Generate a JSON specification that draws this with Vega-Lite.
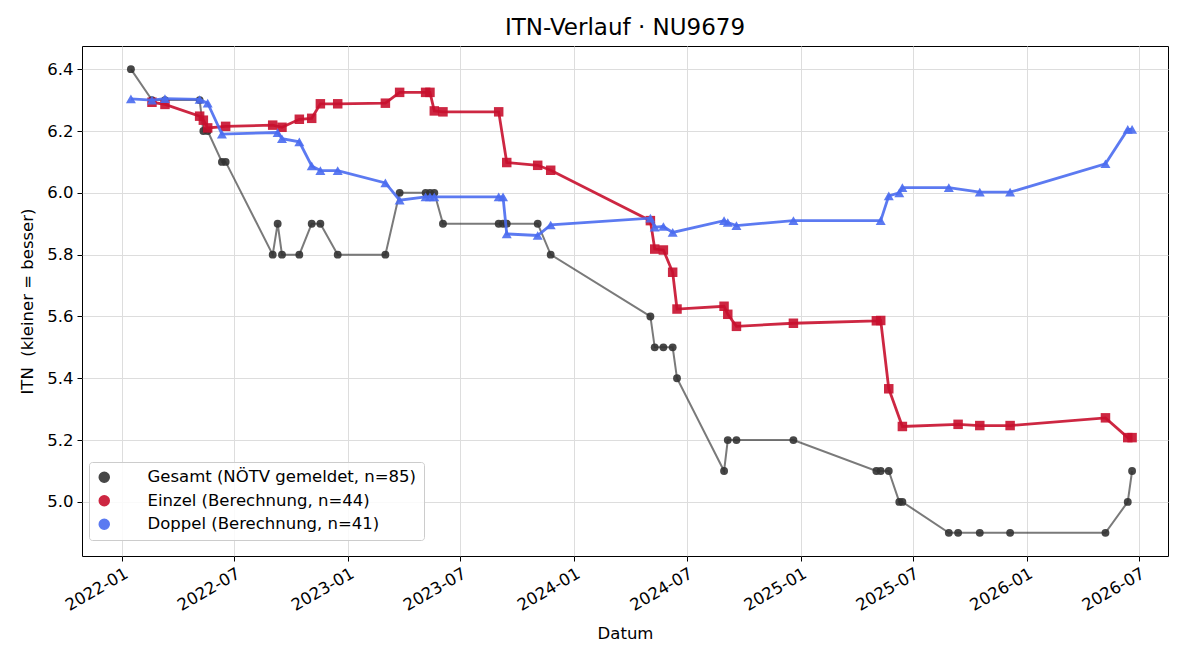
{
  "$schema": "https://vega.github.io/schema/vega-lite/v6.json",
  "autosize": {"type": "none"},
  "width": 1086,
  "height": 510,
  "padding": {"left": 82, "top": 46, "right": 32, "bottom": 104},
  "background": "white",
  "title": {
    "text": "ITN-Verlauf · NU9679",
    "fontSize": 23,
    "fontWeight": "normal",
    "color": "black",
    "anchor": "middle",
    "offset": 6,
    "font": "DejaVu Sans"
  },
  "config": {
    "font": "DejaVu Sans",
    "view": {"stroke": "black", "strokeWidth": 1},
    "axis": {
      "domain": false,
      "grid": true,
      "gridColor": "#dddddd",
      "gridWidth": 1,
      "tickColor": "black",
      "tickSize": 5,
      "tickWidth": 1,
      "labelColor": "black",
      "labelFontSize": 16.5,
      "labelFont": "DejaVu Sans",
      "labelPadding": 4,
      "titleColor": "black",
      "titleFontSize": 16.5,
      "titleFontWeight": "normal",
      "titleFont": "DejaVu Sans"
    }
  },
  "datasets": {
    "itn": [
      {"tag": "2022-01-15", "serie": "Gesamt", "itn": 6.4},
      {"tag": "2022-02-18", "serie": "Gesamt", "itn": 6.3},
      {"tag": "2022-03-11", "serie": "Gesamt", "itn": 6.3},
      {"tag": "2022-05-06", "serie": "Gesamt", "itn": 6.3},
      {"tag": "2022-05-12", "serie": "Gesamt", "itn": 6.2},
      {"tag": "2022-05-19", "serie": "Gesamt", "itn": 6.2},
      {"tag": "2022-06-11", "serie": "Gesamt", "itn": 6.1},
      {"tag": "2022-06-17", "serie": "Gesamt", "itn": 6.1},
      {"tag": "2022-09-01", "serie": "Gesamt", "itn": 5.8},
      {"tag": "2022-09-09", "serie": "Gesamt", "itn": 5.9},
      {"tag": "2022-09-16", "serie": "Gesamt", "itn": 5.8},
      {"tag": "2022-10-14", "serie": "Gesamt", "itn": 5.8},
      {"tag": "2022-11-03", "serie": "Gesamt", "itn": 5.9},
      {"tag": "2022-11-17", "serie": "Gesamt", "itn": 5.9},
      {"tag": "2022-12-15", "serie": "Gesamt", "itn": 5.8},
      {"tag": "2023-03-02", "serie": "Gesamt", "itn": 5.8},
      {"tag": "2023-03-25", "serie": "Gesamt", "itn": 6.0},
      {"tag": "2023-05-06", "serie": "Gesamt", "itn": 6.0},
      {"tag": "2023-05-13", "serie": "Gesamt", "itn": 6.0},
      {"tag": "2023-05-20", "serie": "Gesamt", "itn": 6.0},
      {"tag": "2023-06-03", "serie": "Gesamt", "itn": 5.9},
      {"tag": "2023-09-01", "serie": "Gesamt", "itn": 5.9},
      {"tag": "2023-09-08", "serie": "Gesamt", "itn": 5.9},
      {"tag": "2023-09-14", "serie": "Gesamt", "itn": 5.9},
      {"tag": "2023-11-03", "serie": "Gesamt", "itn": 5.9},
      {"tag": "2023-11-24", "serie": "Gesamt", "itn": 5.8},
      {"tag": "2024-05-03", "serie": "Gesamt", "itn": 5.6},
      {"tag": "2024-05-10", "serie": "Gesamt", "itn": 5.5},
      {"tag": "2024-05-24", "serie": "Gesamt", "itn": 5.5},
      {"tag": "2024-06-08", "serie": "Gesamt", "itn": 5.5},
      {"tag": "2024-06-15", "serie": "Gesamt", "itn": 5.4},
      {"tag": "2024-08-30", "serie": "Gesamt", "itn": 5.1},
      {"tag": "2024-09-05", "serie": "Gesamt", "itn": 5.2},
      {"tag": "2024-09-19", "serie": "Gesamt", "itn": 5.2},
      {"tag": "2024-12-20", "serie": "Gesamt", "itn": 5.2},
      {"tag": "2025-05-03", "serie": "Gesamt", "itn": 5.1},
      {"tag": "2025-05-10", "serie": "Gesamt", "itn": 5.1},
      {"tag": "2025-05-23", "serie": "Gesamt", "itn": 5.1},
      {"tag": "2025-06-09", "serie": "Gesamt", "itn": 5.0},
      {"tag": "2025-06-14", "serie": "Gesamt", "itn": 5.0},
      {"tag": "2025-08-28", "serie": "Gesamt", "itn": 4.9},
      {"tag": "2025-09-12", "serie": "Gesamt", "itn": 4.9},
      {"tag": "2025-10-17", "serie": "Gesamt", "itn": 4.9},
      {"tag": "2025-12-05", "serie": "Gesamt", "itn": 4.9},
      {"tag": "2026-05-08", "serie": "Gesamt", "itn": 4.9},
      {"tag": "2026-06-13", "serie": "Gesamt", "itn": 5.0},
      {"tag": "2026-06-20", "serie": "Gesamt", "itn": 5.1},

      {"tag": "2022-02-18", "serie": "Einzel", "itn": 6.293},
      {"tag": "2022-03-11", "serie": "Einzel", "itn": 6.286},
      {"tag": "2022-05-06", "serie": "Einzel", "itn": 6.248},
      {"tag": "2022-05-12", "serie": "Einzel", "itn": 6.235},
      {"tag": "2022-05-19", "serie": "Einzel", "itn": 6.21},
      {"tag": "2022-06-17", "serie": "Einzel", "itn": 6.215},
      {"tag": "2022-09-01", "serie": "Einzel", "itn": 6.219},
      {"tag": "2022-09-16", "serie": "Einzel", "itn": 6.212},
      {"tag": "2022-10-14", "serie": "Einzel", "itn": 6.238},
      {"tag": "2022-11-03", "serie": "Einzel", "itn": 6.241},
      {"tag": "2022-11-17", "serie": "Einzel", "itn": 6.288},
      {"tag": "2022-12-15", "serie": "Einzel", "itn": 6.288},
      {"tag": "2023-03-02", "serie": "Einzel", "itn": 6.29},
      {"tag": "2023-03-25", "serie": "Einzel", "itn": 6.325},
      {"tag": "2023-05-06", "serie": "Einzel", "itn": 6.325},
      {"tag": "2023-05-13", "serie": "Einzel", "itn": 6.325},
      {"tag": "2023-05-20", "serie": "Einzel", "itn": 6.265},
      {"tag": "2023-06-03", "serie": "Einzel", "itn": 6.262},
      {"tag": "2023-09-01", "serie": "Einzel", "itn": 6.262},
      {"tag": "2023-09-14", "serie": "Einzel", "itn": 6.098},
      {"tag": "2023-11-03", "serie": "Einzel", "itn": 6.089},
      {"tag": "2023-11-24", "serie": "Einzel", "itn": 6.073},
      {"tag": "2024-05-03", "serie": "Einzel", "itn": 5.91},
      {"tag": "2024-05-10", "serie": "Einzel", "itn": 5.818},
      {"tag": "2024-05-24", "serie": "Einzel", "itn": 5.815},
      {"tag": "2024-06-08", "serie": "Einzel", "itn": 5.743},
      {"tag": "2024-06-15", "serie": "Einzel", "itn": 5.624},
      {"tag": "2024-08-30", "serie": "Einzel", "itn": 5.633},
      {"tag": "2024-09-05", "serie": "Einzel", "itn": 5.607},
      {"tag": "2024-09-19", "serie": "Einzel", "itn": 5.568},
      {"tag": "2024-12-20", "serie": "Einzel", "itn": 5.578},
      {"tag": "2025-05-03", "serie": "Einzel", "itn": 5.586},
      {"tag": "2025-05-10", "serie": "Einzel", "itn": 5.587},
      {"tag": "2025-05-23", "serie": "Einzel", "itn": 5.366},
      {"tag": "2025-06-14", "serie": "Einzel", "itn": 5.244},
      {"tag": "2025-09-12", "serie": "Einzel", "itn": 5.251},
      {"tag": "2025-10-17", "serie": "Einzel", "itn": 5.247},
      {"tag": "2025-12-05", "serie": "Einzel", "itn": 5.247},
      {"tag": "2026-05-08", "serie": "Einzel", "itn": 5.272},
      {"tag": "2026-06-13", "serie": "Einzel", "itn": 5.208},
      {"tag": "2026-06-20", "serie": "Einzel", "itn": 5.208},

      {"tag": "2022-01-15", "serie": "Doppel", "itn": 6.304},
      {"tag": "2022-02-18", "serie": "Doppel", "itn": 6.3},
      {"tag": "2022-03-11", "serie": "Doppel", "itn": 6.305},
      {"tag": "2022-05-06", "serie": "Doppel", "itn": 6.302},
      {"tag": "2022-05-19", "serie": "Doppel", "itn": 6.29},
      {"tag": "2022-06-11", "serie": "Doppel", "itn": 6.19},
      {"tag": "2022-09-09", "serie": "Doppel", "itn": 6.195},
      {"tag": "2022-09-16", "serie": "Doppel", "itn": 6.175},
      {"tag": "2022-10-14", "serie": "Doppel", "itn": 6.165},
      {"tag": "2022-11-03", "serie": "Doppel", "itn": 6.087},
      {"tag": "2022-11-17", "serie": "Doppel", "itn": 6.072},
      {"tag": "2022-12-15", "serie": "Doppel", "itn": 6.072},
      {"tag": "2023-03-02", "serie": "Doppel", "itn": 6.032},
      {"tag": "2023-03-25", "serie": "Doppel", "itn": 5.976},
      {"tag": "2023-05-06", "serie": "Doppel", "itn": 5.987},
      {"tag": "2023-05-13", "serie": "Doppel", "itn": 5.987},
      {"tag": "2023-05-20", "serie": "Doppel", "itn": 5.987},
      {"tag": "2023-09-01", "serie": "Doppel", "itn": 5.987},
      {"tag": "2023-09-08", "serie": "Doppel", "itn": 5.987},
      {"tag": "2023-09-14", "serie": "Doppel", "itn": 5.867},
      {"tag": "2023-11-03", "serie": "Doppel", "itn": 5.862},
      {"tag": "2023-11-24", "serie": "Doppel", "itn": 5.896},
      {"tag": "2024-05-03", "serie": "Doppel", "itn": 5.918},
      {"tag": "2024-05-10", "serie": "Doppel", "itn": 5.889},
      {"tag": "2024-05-24", "serie": "Doppel", "itn": 5.891},
      {"tag": "2024-06-08", "serie": "Doppel", "itn": 5.872},
      {"tag": "2024-08-30", "serie": "Doppel", "itn": 5.91},
      {"tag": "2024-09-05", "serie": "Doppel", "itn": 5.904},
      {"tag": "2024-09-19", "serie": "Doppel", "itn": 5.894},
      {"tag": "2024-12-20", "serie": "Doppel", "itn": 5.91},
      {"tag": "2025-05-10", "serie": "Doppel", "itn": 5.91},
      {"tag": "2025-05-23", "serie": "Doppel", "itn": 5.99},
      {"tag": "2025-06-09", "serie": "Doppel", "itn": 6.0},
      {"tag": "2025-06-14", "serie": "Doppel", "itn": 6.017},
      {"tag": "2025-08-28", "serie": "Doppel", "itn": 6.017},
      {"tag": "2025-10-17", "serie": "Doppel", "itn": 6.002},
      {"tag": "2025-12-05", "serie": "Doppel", "itn": 6.002},
      {"tag": "2026-05-08", "serie": "Doppel", "itn": 6.094},
      {"tag": "2026-06-13", "serie": "Doppel", "itn": 6.205},
      {"tag": "2026-06-20", "serie": "Doppel", "itn": 6.205}
    ]
  },
  "data": {"name": "itn"},
  "encoding": {
    "x": {
      "field": "tag",
      "type": "temporal",
      "title": "Datum",
      "scale": {
        "type": "utc",
        "domain": [
          {"year": 2021, "month": 10, "date": 28, "utc": true},
          {"year": 2026, "month": 8, "date": 17, "utc": true}
        ]
      },
      "axis": {
        "values": [
          {"year": 2022, "month": 1, "date": 1, "utc": true},
          {"year": 2022, "month": 7, "date": 1, "utc": true},
          {"year": 2023, "month": 1, "date": 1, "utc": true},
          {"year": 2023, "month": 7, "date": 1, "utc": true},
          {"year": 2024, "month": 1, "date": 1, "utc": true},
          {"year": 2024, "month": 7, "date": 1, "utc": true},
          {"year": 2025, "month": 1, "date": 1, "utc": true},
          {"year": 2025, "month": 7, "date": 1, "utc": true},
          {"year": 2026, "month": 1, "date": 1, "utc": true},
          {"year": 2026, "month": 7, "date": 1, "utc": true}
        ],
        "format": "%Y-%m",
        "labelAngle": -30,
        "labelAlign": "right",
        "labelBaseline": "top",
        "titlePadding": 12
      }
    },
    "y": {
      "field": "itn",
      "type": "quantitative",
      "title": "ITN\u00a0 (kleiner = besser)",
      "scale": {"domain": [4.825, 6.475], "zero": false, "nice": false},
      "axis": {
        "values": [5.0, 5.2, 5.4, 5.6, 5.8, 6.0, 6.2, 6.4],
        "format": ".1f",
        "titlePadding": 11
      }
    },
    "color": {
      "field": "serie",
      "type": "nominal",
      "scale": {
        "domain": ["Gesamt", "Einzel", "Doppel"],
        "range": ["#333333", "#c8102e", "#4a6cf0"]
      },
      "legend": {
        "title": null,
        "orient": "none",
        "legendX": 7,
        "legendY": 416,
        "padding": 7,
        "fillColor": "rgba(255,255,255,0.85)",
        "strokeColor": "#cccccc",
        "cornerRadius": 3,
        "labelFont": "DejaVu Sans",
        "labelFontSize": 16.5,
        "labelColor": "black",
        "labelLimit": 0,
        "labelOffset": 35,
        "rowPadding": 6.5,
        "symbolSize": 100,
        "symbolOpacity": 0.9,
        "labelExpr": "datum.value === 'Gesamt' ? 'Gesamt (NÖTV gemeldet, n=85)' : datum.value === 'Einzel' ? 'Einzel (Berechnung, n=44)' : 'Doppel (Berechnung, n=41)'"
      }
    }
  },
  "layer": [
    {
      "transform": [{"filter": "datum.serie === 'Gesamt'"}],
      "mark": {"type": "line", "strokeWidth": 2, "opacity": 0.65}
    },
    {
      "transform": [{"filter": "datum.serie === 'Gesamt'"}],
      "mark": {"type": "point", "filled": true, "shape": "circle", "size": 62, "opacity": 0.9}
    },
    {
      "transform": [{"filter": "datum.serie === 'Einzel'"}],
      "mark": {"type": "line", "strokeWidth": 2.8, "opacity": 0.9}
    },
    {
      "transform": [{"filter": "datum.serie === 'Einzel'"}],
      "mark": {"type": "point", "filled": true, "shape": "square", "size": 90, "opacity": 0.9}
    },
    {
      "transform": [{"filter": "datum.serie === 'Doppel'"}],
      "mark": {"type": "line", "strokeWidth": 2.8, "opacity": 0.9}
    },
    {
      "transform": [{"filter": "datum.serie === 'Doppel'"}],
      "mark": {"type": "point", "filled": true, "shape": "triangle-up", "size": 100, "opacity": 0.9}
    }
  ]
}
